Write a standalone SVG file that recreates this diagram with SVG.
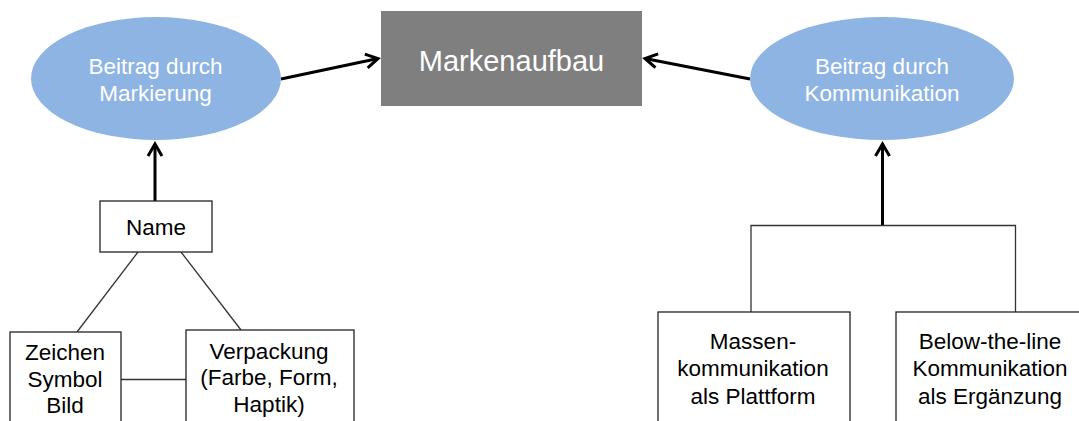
<svg xmlns="http://www.w3.org/2000/svg" width="1079" height="421" viewBox="0 0 1079 421">
<style>
.ell{fill:#8eb4e3;}
.box{fill:#ffffff;stroke:#222;stroke-width:1.3;}
.wt{fill:#ffffff;font-family:"Liberation Sans",Arial,sans-serif;font-size:22.5px;text-anchor:middle;}
.bt{fill:#000000;font-family:"Liberation Sans",Arial,sans-serif;font-size:22.5px;text-anchor:middle;}
.thick{stroke:#000;stroke-width:3;fill:none;}
.thin{stroke:#333;stroke-width:1.3;fill:none;}
</style>
<defs>
<marker id="arr" markerUnits="userSpaceOnUse" viewBox="-16 -10 20 20" markerWidth="20" markerHeight="20" refX="0" refY="0" orient="auto">
<path d="M -12 -7 L 0 0 L -12 7" fill="none" stroke="#000" stroke-width="3" stroke-linejoin="miter"/>
</marker>
</defs>
<rect width="1079" height="421" fill="#ffffff"/>
<g id="connectors">
<line class="thick" x1="281" y1="79" x2="378" y2="58.5" marker-end="url(#arr)"/>
<line class="thick" x1="750" y1="79" x2="645" y2="58.5" marker-end="url(#arr)"/>
<line class="thick" x1="155" y1="201" x2="155" y2="144" marker-end="url(#arr)"/>
<line class="thick" x1="882.5" y1="225" x2="882.5" y2="144" marker-end="url(#arr)"/>
<line class="thin" x1="138" y1="252" x2="77" y2="332"/>
<line class="thin" x1="181" y1="252" x2="241" y2="330"/>
<line class="thin" x1="121" y1="379.5" x2="186" y2="379.5"/>
<polyline class="thin" points="751,312 751,225.5 1015.5,225.5 1015.5,312"/>
</g>
<g id="markenaufbau">
<rect x="381" y="11" width="261" height="95" fill="#7f7f7f"/>
<text class="wt" x="511.5" y="71" style="font-size:29px">Markenaufbau</text>
</g>
<g id="markierung">
<ellipse class="ell" cx="156" cy="78.5" rx="125" ry="61.5"/>
<text class="wt" x="155.5" y="74">Beitrag durch</text>
<text class="wt" x="155.5" y="101">Markierung</text>
</g>
<g id="kommunikation">
<ellipse class="ell" cx="882" cy="78.5" rx="132" ry="61.5"/>
<text class="wt" x="882" y="74">Beitrag durch</text>
<text class="wt" x="882" y="101">Kommunikation</text>
</g>
<g id="name">
<rect class="box" x="100" y="201" width="112" height="51"/>
<text class="bt" x="156" y="235">Name</text>
</g>
<g id="zeichen">
<rect class="box" x="10" y="332" width="111" height="100"/>
<text class="bt" x="65" y="360">Zeichen</text>
<text class="bt" x="65" y="386.5">Symbol</text>
<text class="bt" x="65" y="412.5">Bild</text>
</g>
<g id="verpackung">
<rect class="box" x="186" y="330" width="168" height="100"/>
<text class="bt" x="269" y="358.5">Verpackung</text>
<text class="bt" x="269" y="385">(Farbe, Form,</text>
<text class="bt" x="269" y="411.5">Haptik)</text>
</g>
<g id="massen">
<rect class="box" x="658" y="312" width="192" height="120"/>
<text class="bt" x="753" y="348.5">Massen-</text>
<text class="bt" x="753" y="376">kommunikation</text>
<text class="bt" x="753" y="403.5">als Plattform</text>
</g>
<g id="belowline">
<rect class="box" x="896" y="312" width="190" height="120"/>
<text class="bt" x="990" y="348.5">Below-the-line</text>
<text class="bt" x="990" y="376">Kommunikation</text>
<text class="bt" x="990" y="403.5">als Ergänzung</text>
</g>
</svg>
